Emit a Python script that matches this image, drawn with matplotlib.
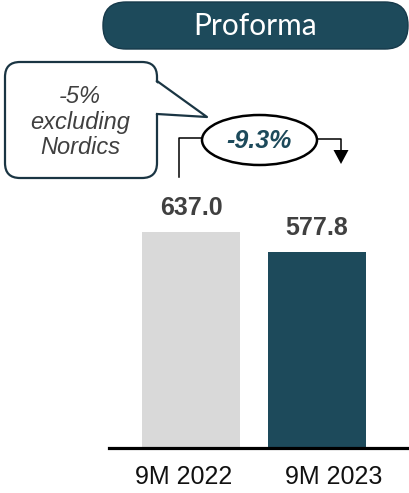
import matplotlib
matplotlib.use("Agg")
import matplotlib.pyplot as plt
from matplotlib.patches import FancyBboxPatch, Ellipse, Polygon
from matplotlib.lines import Line2D
from matplotlib.transforms import ScaledTranslation

# Data
categories = ["9M 2022", "9M 2023"]
values = [637.0, 577.8]
value_labels = ["637.0", "577.8"]
change_label = "-9.3%"
note_label = "-5%\nexcluding\nNordics"
header_label = "Proforma"

TEAL = "#1d4a5b"
GREY_BAR = "#d9d9d9"
TEXT_GREY = "#404040"

W, H, DPI = 410, 493, 100
fig = plt.figure(figsize=(W / DPI, H / DPI), dpi=DPI)
fig.patch.set_facecolor("white")

def frac(x0, y_top, w, h):
    """Axes rectangle from pixel box measured from the top-left corner."""
    return [x0 / W, 1 - (y_top + h) / H, w / W, h / H]

# Bar chart
ymax = 700
ax_h = ymax * 0.339
ax = fig.add_axes(frac(109, 448 - ax_h, 301, ax_h))
x = list(range(len(categories)))
ax.bar(x, values, width=0.78, color=[GREY_BAR, TEAL], zorder=2)
ax.set_xlim(-0.651, 1.738)
ax.set_ylim(0, ymax)
for s in ("left", "right", "top"):
    ax.spines[s].set_visible(False)
ax.spines["bottom"].set_linewidth(2.3)
ax.spines["bottom"].set_color("black")
ax.spines["bottom"].set_zorder(3)
ax.set_yticks([])
ax.set_xticks(x)
ax.set_xticklabels(categories, fontsize=18, family="Liberation Sans", color="#111111")
ax.tick_params(axis="x", length=0, pad=12)
for lbl, dx in zip(ax.get_xticklabels(), [-7, 17]):
    lbl.set_transform(lbl.get_transform() + ScaledTranslation(dx / DPI, 0, fig.dpi_scale_trans))

for xi, v, t in zip(x, values, value_labels):
    ax.annotate(t, (xi, v), xytext=(0, 17.5), textcoords="offset points",
                ha="center", va="center", fontsize=18, fontweight="bold",
                family="Liberation Sans", color=TEXT_GREY, clip_on=False)

# Overlay in pixel units for the header and call-outs
ov = fig.add_axes([0, 0, 1, 1], zorder=5)
ov.set_xlim(0, W)
ov.set_ylim(H, 0)
ov.axis("off")
ov.patch.set_alpha(0)

# Header pill
pill = FancyBboxPatch((103, 2), 305, 47, boxstyle="round,pad=0,rounding_size=23",
                      facecolor=TEAL, edgecolor="#16394a", linewidth=1.0)
ov.add_patch(pill)
ov.text(255, 26, header_label, ha="center", va="center", color="white",
        fontsize=21.5, family="Lato")

# Speech bubble
EDGE = "#1a3543"
bubble = FancyBboxPatch((5, 62), 152, 116, boxstyle="round,pad=0,rounding_size=15",
                        facecolor="white", edgecolor=EDGE, linewidth=1.6)
ov.add_patch(bubble)
ov.add_patch(Polygon([(154, 81), (207, 117), (154, 114)], closed=True,
                     facecolor="white", edgecolor="none", zorder=3))
ov.add_line(Line2D([157, 207, 157], [81, 117, 114], color=EDGE, linewidth=1.6, zorder=4))
ov.text(80, 122, note_label, ha="center", va="center", color=TEXT_GREY,
        fontsize=17, style="italic", family="Liberation Sans", linespacing=1.15, zorder=5)

# Change bracket with ellipse
ov.add_line(Line2D([179, 179, 203], [177, 138, 138], color="black", linewidth=1.1))
ov.add_line(Line2D([316, 341, 341], [139, 139, 151], color="black", linewidth=1.1))
ov.add_patch(Polygon([(333.5, 150), (348.5, 150), (341, 164)], closed=True,
                     facecolor="black", edgecolor="none"))
ov.add_patch(Ellipse((259.5, 140), 115, 50, facecolor="white", edgecolor="black",
                     linewidth=1.8, zorder=4))
ov.text(259, 141, change_label, ha="center", va="center", color=TEAL, fontsize=18,
        fontweight="bold", style="italic", family="Liberation Sans", zorder=5)

fig.savefig("out.png", dpi=DPI)
